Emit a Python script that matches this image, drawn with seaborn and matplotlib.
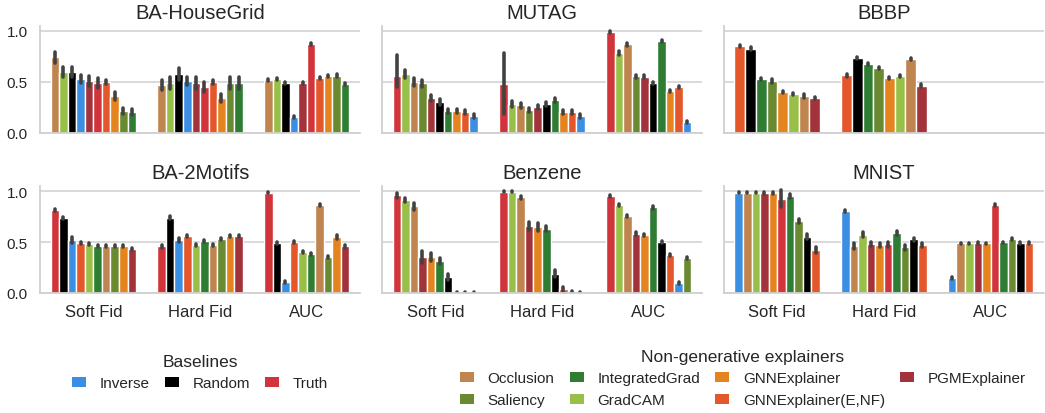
import numpy as np
import pandas as pd
import matplotlib
matplotlib.use("Agg")
import matplotlib.pyplot as plt
from matplotlib.patches import Patch
import seaborn as sns

# ------------------------------------------------------------------
# Explainer fidelity / AUC per dataset
# ------------------------------------------------------------------
metrics = ["Soft Fid", "Hard Fid", "AUC"]

baselines = ["Inverse", "Random", "Truth"]
explainers = ["Occlusion", "Saliency", "IntegratedGrad", "GradCAM",
              "GNNExplainer", "GNNExplainer(E,NF)", "PGMExplainer"]

colors = {
    "Inverse": "#3b8fe3",
    "Random": "#000000",
    "Truth": "#d1343a",
    "Occlusion": "#c0854f",
    "IntegratedGrad": "#2e7d32",
    "GNNExplainer": "#e5831f",
    "PGMExplainer": "#a3333a",
    "Saliency": "#6a8a32",
    "GradCAM": "#98c048",
    "GNNExplainer(E,NF)": "#e4572a",
}

# BA-HouseGrid
hg_order = ["Occlusion", "GradCAM", "Random", "Inverse", "PGMExplainer", "Truth",
            "GNNExplainer(E,NF)", "GNNExplainer", "Saliency", "IntegratedGrad"]
hg_soft = [0.74, 0.60, 0.60, 0.53, 0.51, 0.49, 0.50, 0.36, 0.21, 0.20]
hg_hard = [0.47, 0.485, 0.58, 0.51, 0.49, 0.45, 0.50, 0.34, 0.485, 0.485]
hg_auc = [0.52, 0.53, 0.49, 0.15, 0.49, 0.87, 0.54, 0.555, 0.56, 0.48]
hg_soft_err = [0.05, 0.05, 0.05, 0.04, 0.05, 0.05, 0.02, 0.04, 0.03, 0.03]
hg_hard_err = [0.05, 0.06, 0.06, 0.04, 0.06, 0.05, 0.02, 0.04, 0.06, 0.06]
hg_auc_err = [0.01, 0.01, 0.01, 0.01, 0.01, 0.01, 0.01, 0.01, 0.015, 0.01]

# MUTAG
mu_order = ["Truth", "GradCAM", "Occlusion", "Saliency", "PGMExplainer", "Random",
            "IntegratedGrad", "GNNExplainer", "GNNExplainer(E,NF)", "Inverse"]
mu_soft = [0.56, 0.58, 0.50, 0.485, 0.34, 0.30, 0.21, 0.21, 0.20, 0.16]
mu_hard = [0.475, 0.28, 0.27, 0.22, 0.25, 0.28, 0.32, 0.205, 0.205, 0.16]
mu_auc = [0.99, 0.785, 0.87, 0.555, 0.55, 0.49, 0.905, 0.41, 0.45, 0.11]
mu_soft_err = [0.0, 0.04, 0.04, 0.035, 0.03, 0.03, 0.02, 0.02, 0.02, 0.02]
mu_hard_err = [0.0, 0.03, 0.025, 0.02, 0.02, 0.02, 0.02, 0.02, 0.02, 0.02]
mu_auc_err = [0.01, 0.02, 0.015, 0.015, 0.015, 0.01, 0.01, 0.01, 0.01, 0.01]

# BBBP (no Inverse / Truth, no AUC)
bb_order = ["GNNExplainer(E,NF)", "Random", "IntegratedGrad", "Saliency",
            "GNNExplainer", "GradCAM", "Occlusion", "PGMExplainer"]
bb_soft = [0.855, 0.825, 0.525, 0.505, 0.40, 0.38, 0.36, 0.345]
bb_hard = [0.565, 0.73, 0.68, 0.64, 0.535, 0.555, 0.72, 0.46]
bb_auc = [np.nan] * 8
bb_soft_err = [0.01, 0.015, 0.01, 0.02, 0.01, 0.01, 0.02, 0.01]
bb_hard_err = [0.015, 0.01, 0.01, 0.01, 0.01, 0.01, 0.01, 0.015]
bb_auc_err = [np.nan] * 8

# BA-2Motifs
m2_order = ["Truth", "Random", "Inverse", "GNNExplainer(E,NF)", "GradCAM",
            "IntegratedGrad", "Occlusion", "Saliency", "GNNExplainer", "PGMExplainer"]
m2_soft = [0.816, 0.74, 0.52, 0.49, 0.48, 0.465, 0.457, 0.46, 0.457, 0.434]
m2_hard = [0.46, 0.74, 0.52, 0.56, 0.467, 0.51, 0.467, 0.526, 0.556, 0.556]
m2_auc = [0.987, 0.49, 0.11, 0.50, 0.405, 0.38, 0.86, 0.355, 0.55, 0.46]
m2_soft_err = [0.012, 0.01, 0.025, 0.01, 0.01, 0.01, 0.01, 0.01, 0.01, 0.01]
m2_hard_err = [0.015, 0.012, 0.02, 0.01, 0.01, 0.01, 0.01, 0.01, 0.01, 0.01]
m2_auc_err = [0.005, 0.01, 0.01, 0.01, 0.01, 0.01, 0.01, 0.01, 0.015, 0.015]

# Benzene
bz_order = ["Truth", "GradCAM", "Occlusion", "PGMExplainer", "GNNExplainer",
            "IntegratedGrad", "Random", "GNNExplainer(E,NF)", "Inverse", "Saliency"]
bz_soft = [0.96, 0.915, 0.85, 0.35, 0.35, 0.31, 0.16, 0.005, 0.003, 0.003]
bz_hard = [0.995, 0.995, 0.94, 0.655, 0.645, 0.63, 0.19, 0.04, 0.015, 0.005]
bz_auc = [0.955, 0.86, 0.76, 0.58, 0.57, 0.84, 0.50, 0.37, 0.095, 0.34]
bz_soft_err = [0.025, 0.02, 0.03, 0.06, 0.04, 0.03, 0.03, 0.003, 0.003, 0.003]
bz_hard_err = [0.005, 0.005, 0.015, 0.04, 0.04, 0.025, 0.035, 0.02, 0.008, 0.005]
bz_auc_err = [0.01, 0.01, 0.01, 0.015, 0.01, 0.01, 0.01, 0.01, 0.01, 0.01]

# MNIST
mn_order = ["Inverse", "Occlusion", "GradCAM", "PGMExplainer", "GNNExplainer",
            "Truth", "IntegratedGrad", "Saliency", "Random", "GNNExplainer(E,NF)"]
mn_soft = [0.987, 0.987, 0.987, 0.983, 0.983, 0.925, 0.95, 0.707, 0.553, 0.424]
mn_hard = [0.806, 0.46, 0.57, 0.477, 0.47, 0.48, 0.585, 0.45, 0.526, 0.474]
mn_auc = [0.148, 0.487, 0.487, 0.49, 0.487, 0.86, 0.497, 0.53, 0.49, 0.49]
mn_soft_err = [0.008, 0.008, 0.008, 0.01, 0.01, 0.085, 0.02, 0.02, 0.025, 0.03]
mn_hard_err = [0.01, 0.03, 0.025, 0.02, 0.02, 0.025, 0.02, 0.025, 0.015, 0.02]
mn_auc_err = [0.01, 0.008, 0.008, 0.008, 0.008, 0.01, 0.008, 0.01, 0.008, 0.008]

# a few intervals are clearly lopsided
asym_ci = {
    ("MUTAG", "Soft Fid", "Truth"): (0.45, 0.765),
    ("MUTAG", "Hard Fid", "Truth"): (0.18, 0.78),
}

datasets = {
    "BA-HouseGrid": (hg_order, [hg_soft, hg_hard, hg_auc], [hg_soft_err, hg_hard_err, hg_auc_err]),
    "MUTAG": (mu_order, [mu_soft, mu_hard, mu_auc], [mu_soft_err, mu_hard_err, mu_auc_err]),
    "BBBP": (bb_order, [bb_soft, bb_hard, bb_auc], [bb_soft_err, bb_hard_err, bb_auc_err]),
    "BA-2Motifs": (m2_order, [m2_soft, m2_hard, m2_auc], [m2_soft_err, m2_hard_err, m2_auc_err]),
    "Benzene": (bz_order, [bz_soft, bz_hard, bz_auc], [bz_soft_err, bz_hard_err, bz_auc_err]),
    "MNIST": (mn_order, [mn_soft, mn_hard, mn_auc], [mn_soft_err, mn_hard_err, mn_auc_err]),
}

# long form: each bar gets (low, value, high) so the median is the bar and
# the min/max span is the error bar
rows = []
for ds, (order, vals, errs) in datasets.items():
    for metric, v_list, e_list in zip(metrics, vals, errs):
        for method, v, e in zip(order, v_list, e_list):
            if np.isnan(v):
                continue
            lo, hi = asym_ci.get((ds, metric, method), (v - e, v + e))
            for s in (lo, v, hi):
                rows.append({"dataset": ds, "metric": metric, "method": method, "value": s})
df = pd.DataFrame(rows)

# ------------------------------------------------------------------
sns.set_theme(style="whitegrid")
plt.rcParams["font.family"] = ["Liberation Sans", "DejaVu Sans"]

fig, axes = plt.subplots(2, 3, figsize=(10.45, 4.14), dpi=100, sharey=True, sharex=True)
fig.subplots_adjust(left=0.0383, right=0.999, top=0.935, bottom=0.29,
                    wspace=0.068, hspace=0.50)

for ax, (ds, (order, _, _)) in zip(axes.flat, datasets.items()):
    sub = df[df["dataset"] == ds]
    sns.barplot(data=sub, x="metric", y="value", hue="method",
                order=metrics, hue_order=order, palette=colors,
                estimator="median", errorbar=lambda x: (x.min(), x.max()),
                saturation=1, legend=False, ax=ax,
                err_kws={"color": ".26", "linewidth": 2.6, "solid_capstyle": "round"})
    ax.set_title(ds, fontsize=14.5, pad=6)
    ax.set_xlabel("")
    ax.set_ylabel("")
    ax.set_ylim(0, 1.05)
    ax.set_yticks([0.0, 0.5, 1.0])
    ax.tick_params(axis="y", labelsize=11, pad=3)
    ax.tick_params(axis="x", labelsize=12, pad=2)
    ax.grid(axis="x", visible=False)
    ax.grid(axis="y", color="#d0d0d0", linewidth=1.1)
    for side in ["top", "right"]:
        ax.spines[side].set_visible(False)
    for side in ["left", "bottom"]:
        ax.spines[side].set_color("#d0d0d0")
        ax.spines[side].set_linewidth(1.3)

# legends
base_handles = [Patch(facecolor=colors[m], edgecolor="none", label=m) for m in baselines]
expl_handles = [Patch(facecolor=colors[m], edgecolor="none", label=m) for m in explainers]

leg_kw = dict(frameon=False, fontsize=11, title_fontsize=12.5, handlelength=0.9,
              handleheight=0.65, handletextpad=0.9, columnspacing=1.0, labelspacing=0.5)
leg1 = fig.legend(handles=base_handles, title="Baselines", ncol=3, loc="center",
                  bbox_to_anchor=(200 / 1045, 1 - 373 / 414), **leg_kw)
leg2 = fig.legend(handles=expl_handles, title="Non-generative explainers", ncol=4, loc="center",
                  bbox_to_anchor=(743 / 1045, 1 - 379 / 414), **leg_kw)

fig.savefig("out.png", dpi=100)
